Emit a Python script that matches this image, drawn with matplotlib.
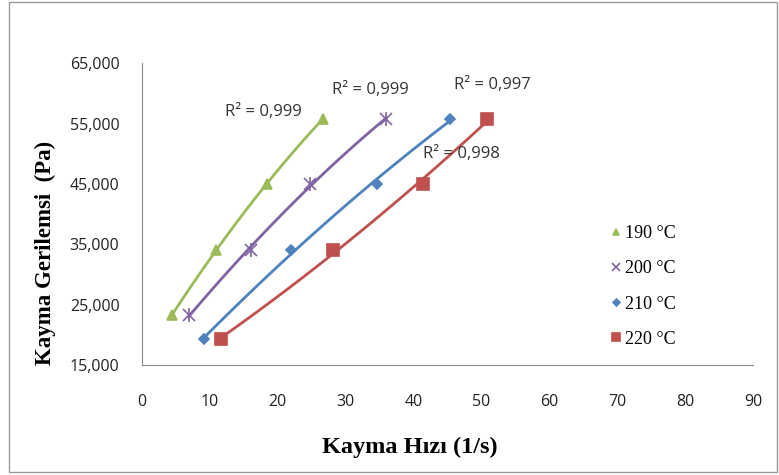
import numpy as np
import matplotlib
matplotlib.use("Agg")
import matplotlib.pyplot as plt
from matplotlib.patches import Rectangle
from matplotlib.ticker import FuncFormatter

# veriler
etiketler = ["190 °C", "200 °C", "210 °C", "220 °C"]
hiz_190 = [4.4, 11.0, 18.4, 26.7]
hiz_200 = [6.9, 16.1, 24.7, 36.0]
hiz_210 = [9.2, 21.9, 34.7, 45.4]
hiz_220 = [11.6, 28.2, 41.4, 50.9]
gerilme_190 = [23200, 34100, 45000, 55800]
gerilme_200 = [23200, 34100, 45000, 55800]
gerilme_210 = [19300, 34100, 45000, 55800]
gerilme_220 = [19300, 34100, 45000, 55800]
r2_degerleri = ["0,999", "0,999", "0,998", "0,997"]

renkler = ["#9BBB59", "#8064A2", "#4F81BD", "#C0504D"]
isaretler = ["^", "x", "D", "s"]
boyutlar = [7, 8, 5, 8]

fig = plt.figure(figsize=(7.79, 4.75), dpi=100)
ax = fig.add_axes([0.182, 0.2316, 0.7846, 0.6354])

# dis cerceve
fig.patches.append(Rectangle((0.012, 0.006), 0.985, 0.99, transform=fig.transFigure,
                             fill=False, edgecolor="#9a9a9a", linewidth=1.0))

hizlar = [hiz_190, hiz_200, hiz_210, hiz_220]
gerilmeler = [gerilme_190, gerilme_200, gerilme_210, gerilme_220]

for x, y, renk, isaret, boy, etiket in zip(hizlar, gerilmeler, renkler, isaretler, boyutlar, etiketler):
    # 2. derece egilim cizgisi
    katsayi = np.polyfit(x, y, 2)
    xs = np.linspace(min(x), max(x), 100)
    ax.plot(xs, np.polyval(katsayi, xs), color=renk, linewidth=2)
    ax.plot(x, y, linestyle="none", marker=isaret, color=renk, markersize=boy,
            markeredgewidth=1.2, label=etiket)
    if isaret == "x":
        ax.plot(x, y, linestyle="none", marker="|", color=renk, markersize=boy + 2,
                markeredgewidth=1.2)

# R^2 yazilari
r2_konum = [(17.9, 56900), (33.7, 60500), (47.0, 49900), (51.6, 61400)]
for (tx, ty), r2 in zip(r2_konum, r2_degerleri):
    ax.text(tx, ty, "R² = " + r2, fontsize=12, family="Open Sans",
            color="#333333", ha="center", va="center")

ax.set_xlim(0, 90)
ax.set_ylim(15000, 65000)
ax.set_xticks(range(0, 91, 10))
ax.set_yticks(range(15000, 65001, 10000))
ax.yaxis.set_major_formatter(FuncFormatter(lambda v, p: f"{int(v):,}"))
ax.tick_params(length=0, labelsize=11.5, colors="#222222")
ax.tick_params(axis="x", pad=21)
ax.tick_params(axis="y", pad=16)
for lab in ax.get_xticklabels() + ax.get_yticklabels():
    lab.set_family("Open Sans")

ax.spines["top"].set_visible(False)
ax.spines["right"].set_visible(False)
ax.spines["left"].set_color("#8c8c8c")
ax.spines["bottom"].set_color("#8c8c8c")

ax.set_xlabel("Kayma Hızı (1/s)", family="Liberation Serif", fontweight="bold",
              fontsize=17.5)
ax.set_ylabel("Kayma Gerilemsi  (Pa)", family="Liberation Serif", fontweight="bold",
              fontsize=16.5)
ax.xaxis.set_label_coords(0.439, -0.238)
ax.yaxis.set_label_coords(-0.14, 0.37)

leg = ax.legend(loc="center left", bbox_to_anchor=(0.734, 0.26), frameon=False,
                prop={"family": "Liberation Serif", "size": 13},
                handletextpad=0.0, labelspacing=1.0, handlelength=1.0, markerscale=0.7)

fig.savefig("out.png", dpi=100)
